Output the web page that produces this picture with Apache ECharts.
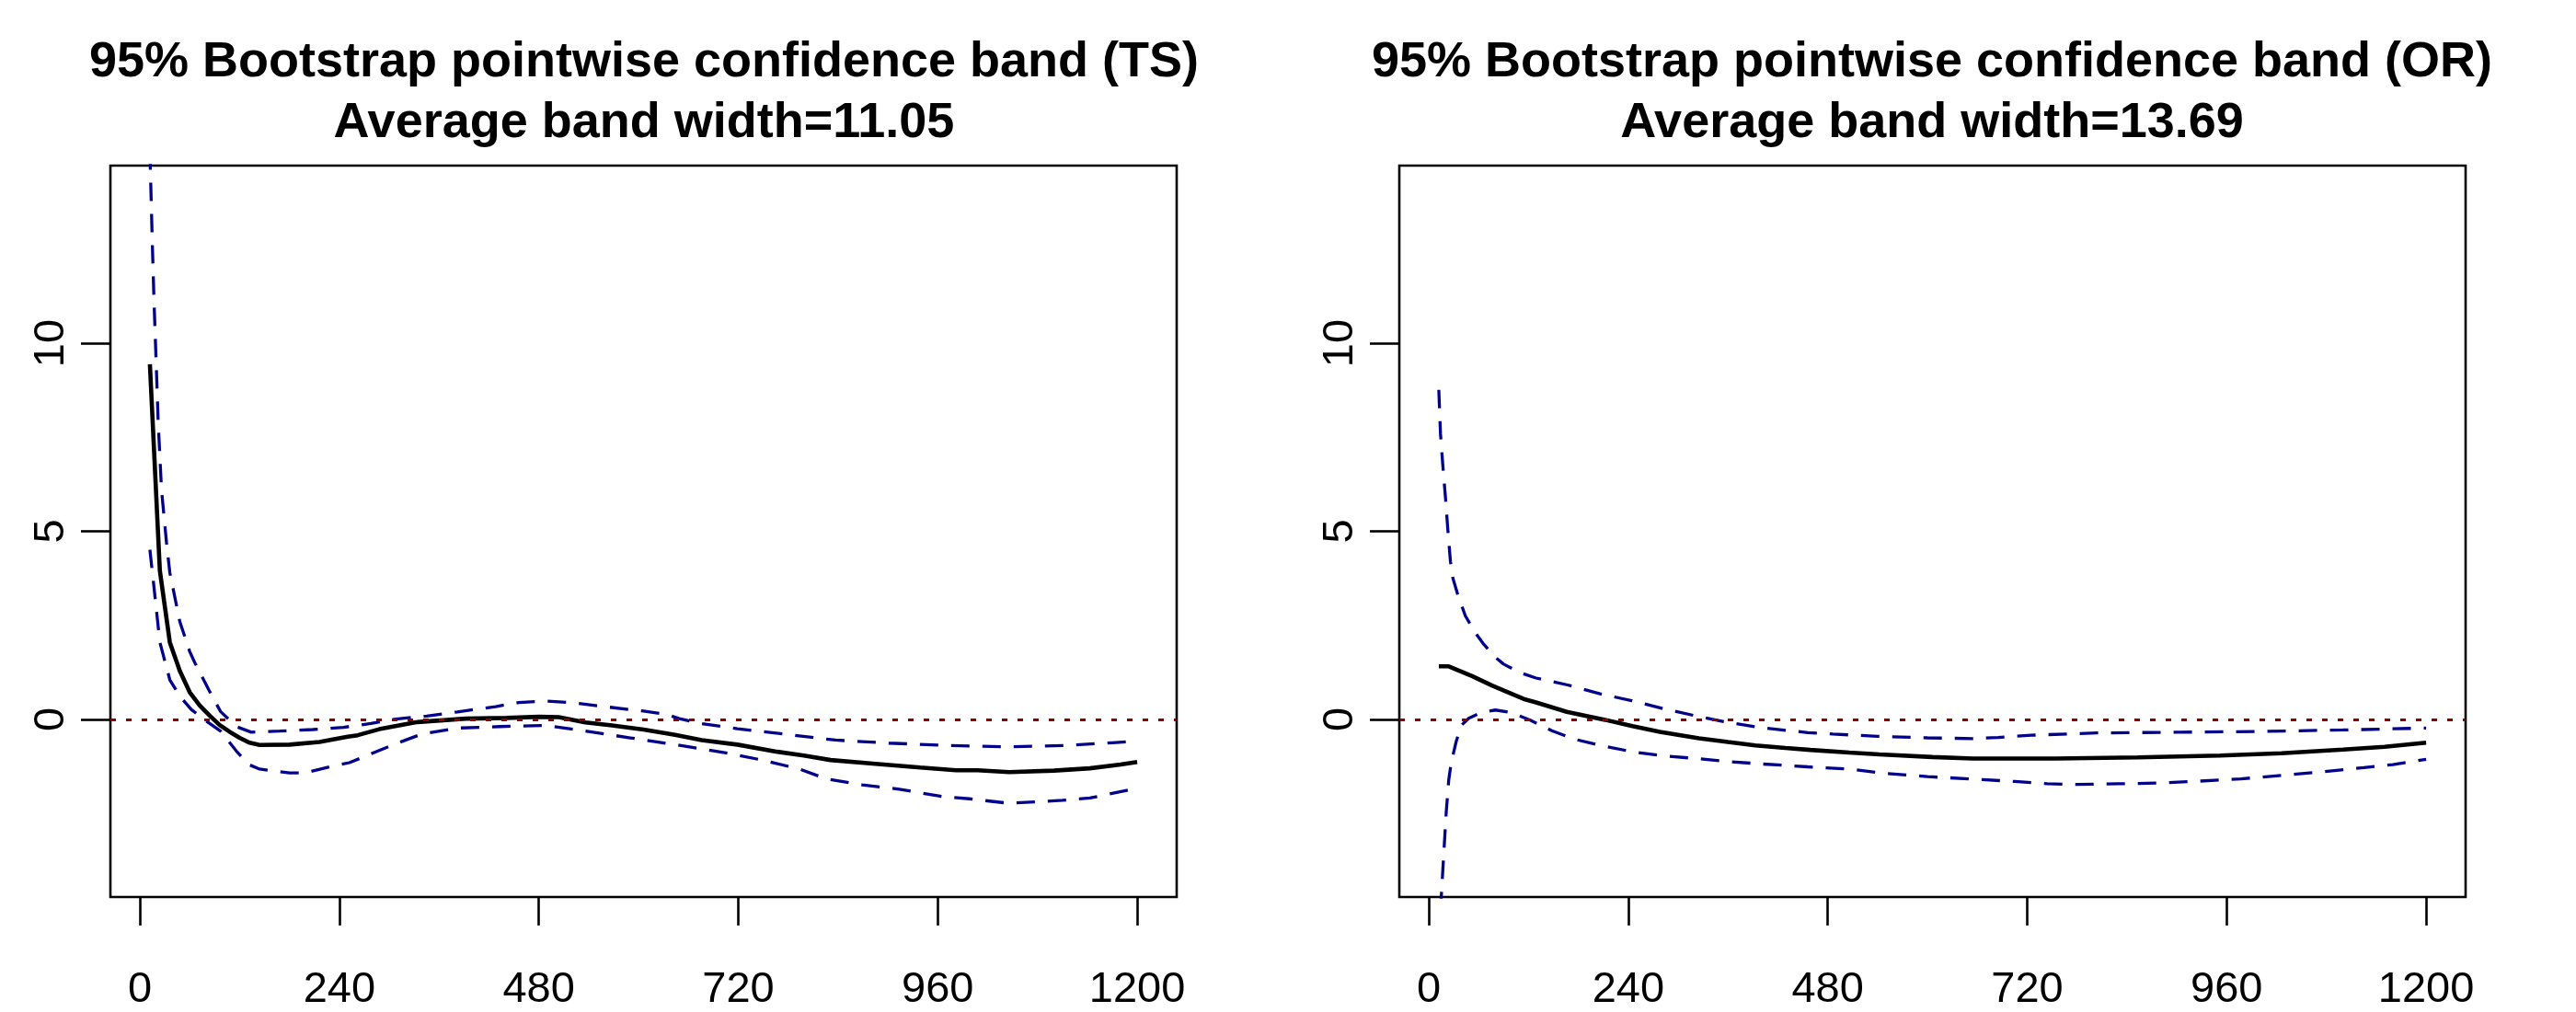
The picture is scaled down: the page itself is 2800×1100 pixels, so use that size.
<!DOCTYPE html>
<html>
<head>
<meta charset="utf-8">
<script src="https://cdn.jsdelivr.net/npm/echarts@6/dist/echarts.min.js"></script>
<style>
html,body{margin:0;padding:0;background:#fff;}
#chart{width:2800px;height:1100px;}
</style>
</head>
<body>
<div id="chart"></div>
<script>
// ---- data ----
const titlesTS = ['95% Bootstrap pointwise confidence band (TS)', 'Average band width=11.05'];
const titlesOR = ['95% Bootstrap pointwise confidence band (OR)', 'Average band width=13.69'];
const xTicks = [0, 240, 480, 720, 960, 1200];
const yTicks = [0, 5, 10];

const tsEst = [[12,9.44],[24,3.95],[36,2.05],[48,1.29],[60,0.72],[72,0.37],[84,0.10],[96,-0.15],[108,-0.33],[120,-0.49],[132,-0.62],[144,-0.68],[180,-0.67],[216,-0.60],[250,-0.46],[262,-0.42],[288,-0.26],[334,-0.07],[392,0.02],[441,0.04],[480,0.07],[504,0.06],[536,-0.08],[568,-0.16],[606,-0.27],[644,-0.41],[676,-0.55],[719,-0.67],[767,-0.86],[799,-0.96],[831,-1.08],[885,-1.18],[939,-1.28],[982,-1.35],[1008,-1.35],[1046,-1.40],[1100,-1.36],[1143,-1.30],[1180,-1.20],[1200,-1.13]];
const tsUpper = [[12,15.1],[15,12.6],[17,11.1],[20,9.2],[22,7.9],[26,6.1],[29,5.4],[32,4.7],[36,3.9],[48,2.6],[60,1.8],[66,1.51],[83,0.78],[97,0.21],[116,-0.19],[134,-0.34],[168,-0.31],[208,-0.27],[245,-0.21],[278,-0.11],[308,0.01],[345,0.09],[382,0.20],[428,0.34],[456,0.45],[488,0.49],[518,0.45],[563,0.33],[606,0.22],[633,0.14],[649,0.02],[676,-0.11],[719,-0.25],[783,-0.41],[837,-0.55],[901,-0.63],[971,-0.69],[1046,-0.73],[1116,-0.69],[1170,-0.62],[1200,-0.58]];
const tsLower = [[12,4.51],[17,3.5],[24,2.05],[36,1.05],[48,0.62],[62,0.26],[79,-0.03],[97,-0.31],[116,-0.84],[131,-1.2],[144,-1.32],[180,-1.42],[199,-1.42],[234,-1.23],[252,-1.15],[271,-0.98],[304,-0.68],[339,-0.39],[382,-0.23],[433,-0.19],[488,-0.16],[536,-0.31],[590,-0.49],[644,-0.67],[708,-0.90],[751,-1.09],[794,-1.32],[826,-1.58],[869,-1.74],[912,-1.85],[966,-2.05],[998,-2.11],[1046,-2.23],[1110,-2.15],[1143,-2.09],[1200,-1.83]];

const orEst = [[12,1.41],[24,1.41],[36,1.30],[52,1.15],[76,0.90],[91,0.76],[116,0.53],[129,0.45],[166,0.20],[212,-0.01],[245,-0.18],[278,-0.33],[325,-0.50],[360,-0.60],[393,-0.69],[429,-0.76],[459,-0.81],[506,-0.88],[542,-0.93],[606,-1.00],[655,-1.04],[754,-1.04],[853,-1.01],[952,-0.96],[1026,-0.90],[1100,-0.80],[1150,-0.73],[1200,-0.62]];
const orUpper = [[12,8.76],[14,7.6],[17,6.7],[20,5.9],[23,5.0],[26,4.2],[29,3.75],[35,3.3],[44,2.75],[56,2.3],[66,2.0],[80,1.65],[90,1.47],[110,1.24],[129,1.10],[168,0.91],[206,0.68],[244,0.50],[283,0.28],[320,0.10],[358,-0.07],[400,-0.22],[456,-0.35],[486,-0.39],[540,-0.45],[600,-0.49],[655,-0.51],[685,-0.48],[725,-0.42],[804,-0.36],[903,-0.34],[1002,-0.32],[1100,-0.28],[1200,-0.23]];
const orLower = [[12,-5.9],[15,-4.7],[18,-3.56],[21,-2.44],[24,-1.6],[27,-1.14],[33,-0.58],[39,-0.16],[48,0.03],[64,0.19],[80,0.25],[98,0.19],[122,-0.02],[148,-0.30],[176,-0.53],[206,-0.69],[245,-0.86],[283,-0.97],[322,-1.04],[360,-1.12],[398,-1.18],[456,-1.26],[506,-1.32],[542,-1.42],[600,-1.52],[666,-1.60],[705,-1.65],[744,-1.71],[780,-1.73],[830,-1.71],[880,-1.69],[927,-1.64],[977,-1.58],[1026,-1.49],[1076,-1.39],[1125,-1.28],[1160,-1.20],[1200,-1.06]];

const xRange = [-35.52, 1247.52];
const yRange = [-4.72, 14.72];
const refLineY = 0;

// ---- chart ----
const FONT = '"Liberation Sans", Arial, Helvetica, sans-serif';
const chart = echarts.init(document.getElementById('chart'), null, {renderer: 'canvas'});

function xAx(gi) {
  return {
    type: 'value', gridIndex: gi, min: xRange[0], max: xRange[1],
    axisLine: {show: false, onZero: false},
    splitLine: {show: false},
    axisTick: {show: true, length: 31, customValues: xTicks, lineStyle: {color: '#000', width: 2.6}},
    axisLabel: {show: true, customValues: xTicks, margin: 78, color: '#000', fontSize: 47, fontFamily: FONT,
      formatter: v => String(v)}
  };
}
function yAx(gi) {
  return {
    type: 'value', gridIndex: gi, min: yRange[0], max: yRange[1],
    axisLine: {show: false, onZero: false},
    splitLine: {show: false},
    axisTick: {show: true, length: 32, customValues: yTicks, lineStyle: {color: '#000', width: 2.6}},
    axisLabel: {show: true, customValues: yTicks, rotate: 90, margin: 40, color: '#000', fontSize: 47, fontFamily: FONT,
      formatter: v => String(v)}
  };
}
function bandSeries(gi, est, up, lo) {
  const dash = {color: '#00008B', width: 3.3, type: [20, 14]};
  return [
    {type: 'line', xAxisIndex: gi, yAxisIndex: gi, data: est, showSymbol: false, symbol: 'none', smooth: false,
     lineStyle: {color: '#000', width: 4.6}, z: 3},
    {type: 'line', xAxisIndex: gi, yAxisIndex: gi, data: up, showSymbol: false, symbol: 'none',
     lineStyle: dash, z: 4},
    {type: 'line', xAxisIndex: gi, yAxisIndex: gi, data: lo, showSymbol: false, symbol: 'none',
     lineStyle: dash, z: 4,
     markLine: {silent: true, symbol: ['none', 'none'], label: {show: false},
       lineStyle: {color: '#8B0000', width: 3.2, type: [6, 11]},
       data: [{yAxis: refLineY}]}}
  ];
}
function titleOf(lines, cx) {
  return {
    text: lines.join('\n'), left: cx, top: 35, textAlign: 'center', padding: 0,
    textStyle: {fontSize: 54, fontWeight: 'bold', lineHeight: 66, color: '#000', fontFamily: FONT}
  };
}

chart.setOption({
  animation: false,
  backgroundColor: '#fff',
  title: [titleOf(titlesTS, 700), titleOf(titlesOR, 2100)],
  grid: [
    {left: 120, top: 180, width: 1159, height: 799, show: true, borderColor: '#000', borderWidth: 2.6, backgroundColor: 'transparent'},
    {left: 1521, top: 180, width: 1159, height: 799, show: true, borderColor: '#000', borderWidth: 2.6, backgroundColor: 'transparent'}
  ],
  xAxis: [xAx(0), xAx(1)],
  yAxis: [yAx(0), yAx(1)],
  series: [].concat(bandSeries(0, tsEst, tsUpper, tsLower), bandSeries(1, orEst, orUpper, orLower))
});
</script>
</body>
</html>
